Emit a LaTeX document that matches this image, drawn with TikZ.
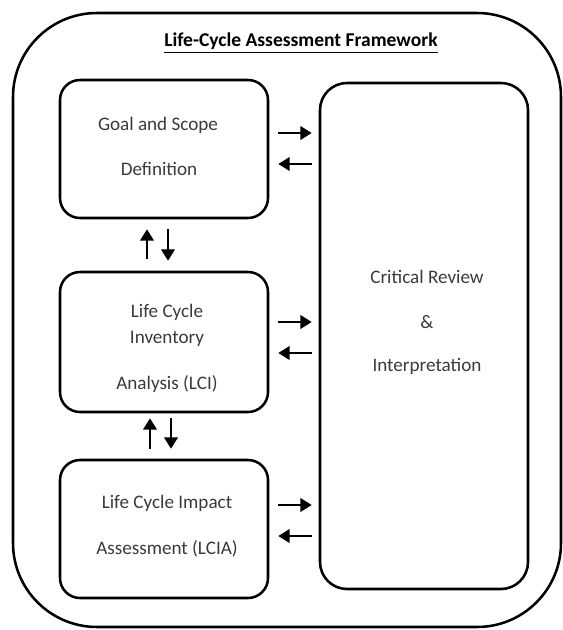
\documentclass[tikz,border=0pt]{standalone}
\usepackage{fontspec}
\setmainfont{Carlito}
\usetikzlibrary{arrows.meta}
\definecolor{txtgrey}{HTML}{3A3A3A}

\begin{document}
\begin{tikzpicture}[x=0.025cm, y=-0.025cm,
    box/.style={draw, line width=1.8pt, rounded corners=0.5cm, minimum width=208*0.025cm},
    lbl/.style={text=txtgrey, font=\fontsize{13.6}{14}\selectfont},
    arr/.style={-{Triangle[length=8pt,width=9.5pt]}, line width=1.6pt}]
    \useasboundingbox (0,0) rectangle (563,630);
    % frame
    \draw[line width=1.8pt, rounded corners=2.1cm] (13,13) rectangle (561,627);
    \node[font=\fontsize{13.9}{15}\selectfont\bfseries] (title) at (301,43) {\underline{Life-Cycle Assessment Framework}};
    % boxes
    \node[box, minimum height=138*0.025cm] (goal) at (164,149) {};
    \node[box, minimum height=140*0.025cm] (lci) at (164,342) {};
    \node[box, minimum height=138*0.025cm] (lcia) at (164,529) {};
    \node[box, rounded corners=0.675cm, minimum height=506*0.025cm] (crit) at (424,336) {};
    % texts
    \node[lbl] (goal1) at (158,125) {Goal and Scope};
    \node[lbl] (goal2) at (159,169) {Definition};
    \node[lbl] (lci1) at (167,312) {Life Cycle};
    \node[lbl] (lci2) at (167,339) {Inventory};
    \node[lbl] (lci3) at (167,384) {Analysis (LCI)};
    \node[lbl] (lcia1) at (167,503) {Life Cycle Impact};
    \node[lbl] (lcia2) at (167,549) {Assessment (LCIA)};
    \node[lbl] (crit1) at (427,277) {Critical Review};
    \node[lbl] (crit2) at (427,322) {\&};
    \node[lbl] (crit3) at (427,366) {Interpretation};
    % arrows to and from the review
    \draw[arr, shorten <=0.225cm, shorten >=0.175cm] ([yshift=0.4cm]goal.east) -- ([yshift=0.4cm]goal.east -| crit.west);
    \draw[arr, shorten <=0.175cm, shorten >=0.225cm] ([yshift=-0.375cm]goal.east -| crit.west) -- ([yshift=-0.375cm]goal.east);
    \draw[arr, shorten <=0.225cm, shorten >=0.175cm] ([yshift=0.5cm]lci.east) -- ([yshift=0.5cm]lci.east -| crit.west);
    \draw[arr, shorten <=0.175cm, shorten >=0.225cm] ([yshift=-0.275cm]lci.east -| crit.west) -- ([yshift=-0.275cm]lci.east);
    \draw[arr, shorten <=0.225cm, shorten >=0.175cm] ([yshift=0.6cm]lcia.east) -- ([yshift=0.6cm]lcia.east -| crit.west);
    \draw[arr, shorten <=0.175cm, shorten >=0.225cm] ([yshift=-0.175cm]lcia.east -| crit.west) -- ([yshift=-0.175cm]lcia.east);
    % arrows between the stages
    \draw[arr, shorten <=0.3cm, shorten >=0.25cm] ([xshift=-0.425cm]lci.north) -- ([xshift=-0.425cm]goal.south);
    \draw[arr, shorten <=0.25cm, shorten >=0.25cm] ([xshift=0.1cm]goal.south) -- ([xshift=0.1cm]lci.north);
    \draw[arr, shorten <=0.25cm, shorten >=0.125cm] ([xshift=-0.35cm]lcia.north) -- ([xshift=-0.35cm]lci.south);
    \draw[arr, shorten <=0.125cm, shorten >=0.25cm] ([xshift=0.175cm]lci.south) -- ([xshift=0.175cm]lcia.north);
\end{tikzpicture}
\end{document}
